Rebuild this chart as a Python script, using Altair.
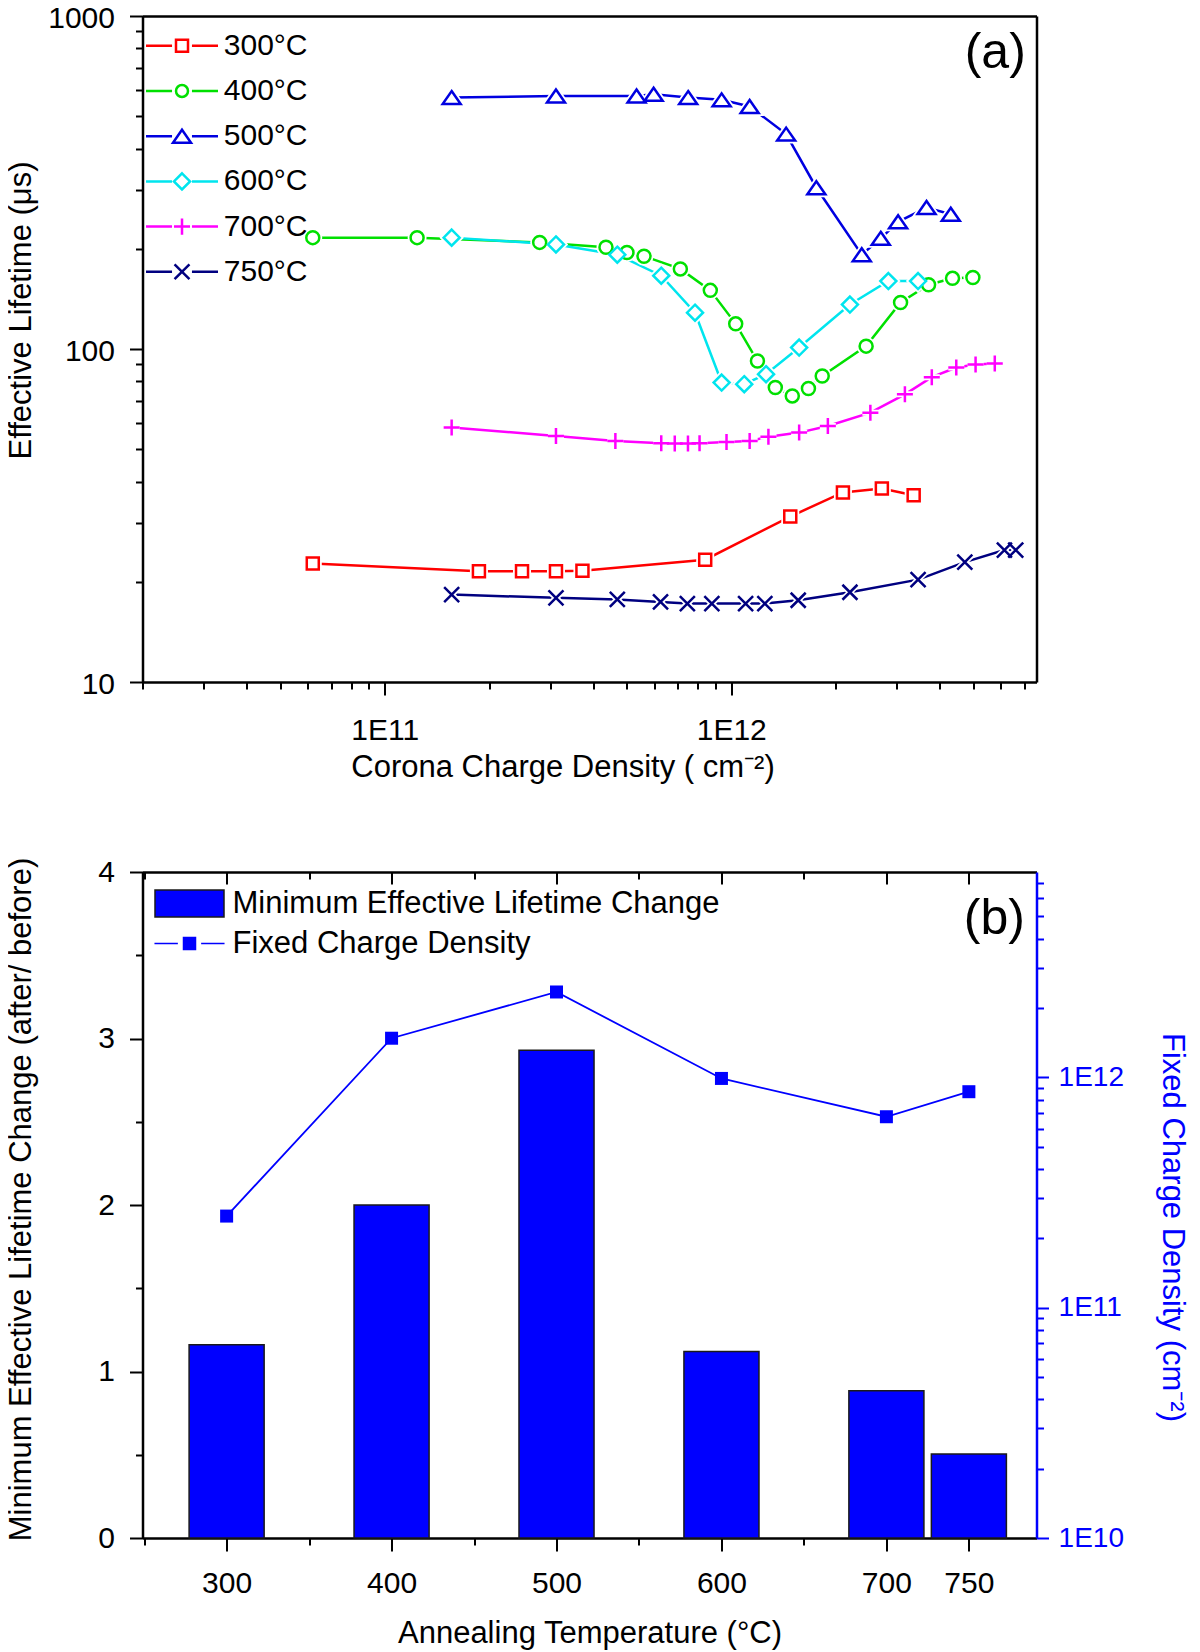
import altair as alt
import pandas as pd

FONT = "Liberation Sans, Arial, Helvetica, sans-serif"

# ---------------- Panel (a) data ----------------
series_names = ["300°C", "400°C", "500°C", "600°C", "700°C", "750°C"]

x300 = [6.2e10, 1.87e11, 2.49e11, 3.12e11, 3.72e11, 8.41e11, 1.48e12, 2.10e12, 2.72e12, 3.36e12]
y300 = [22.7, 21.5, 21.5, 21.5, 21.6, 23.3, 31.4, 37.1, 38.1, 36.4]

x400 = [6.2e10, 1.24e11, 2.80e11, 4.35e11, 5.0e11, 5.6e11, 7.13e11, 8.70e11, 1.03e12, 1.19e12,
        1.34e12, 1.50e12, 1.67e12, 1.83e12, 2.45e12, 3.08e12, 3.71e12, 4.35e12, 4.98e12]
y400 = [216, 216, 209, 202, 195, 190, 174, 150, 119, 92, 76.6, 72.3, 76.1, 83, 102, 138, 156, 163, 164]

x500 = [1.56e11, 3.12e11, 5.33e11, 5.97e11, 7.51e11, 9.38e11, 1.13e12, 1.44e12, 1.76e12, 2.38e12,
        2.70e12, 3.03e12, 3.66e12, 4.30e12]
y500 = [569, 575, 575, 582, 569, 560, 535, 442, 305, 192, 215, 241, 266, 254]

x600 = [1.56e11, 3.12e11, 4.69e11, 6.28e11, 7.86e11, 9.38e11, 1.09e12, 1.26e12, 1.57e12, 2.20e12, 2.84e12, 3.46e12]
y600 = [216, 206, 192, 166, 128.5, 79.3, 78.4, 84, 101, 136, 160, 160]

x700 = [1.56e11, 3.12e11, 4.63e11, 6.28e11, 6.87e11, 7.50e11, 8.10e11, 9.69e11, 1.13e12, 1.28e12,
        1.57e12, 1.90e12, 2.52e12, 3.17e12, 3.79e12, 4.46e12, 5.07e12, 5.76e12]
y700 = [58.1, 54.8, 52.9, 52.1, 52.0, 52.0, 52.1, 52.6, 52.9, 54.5, 56.1, 58.7, 64.4, 73.1, 82.3, 88.0, 89.9, 90.5]

x750 = [1.56e11, 3.12e11, 4.69e11, 6.25e11, 7.47e11, 8.79e11, 1.10e12, 1.25e12, 1.56e12, 2.20e12,
        3.46e12, 4.72e12, 6.14e12, 6.62e12]
y750 = [18.3, 17.9, 17.7, 17.4, 17.2, 17.2, 17.2, 17.2, 17.6, 18.6, 20.3, 22.9, 24.9, 24.9]

# ---------------- Panel (b) data ----------------
temps = [300, 400, 500, 600, 700, 750]
lifetime_change = [1.16, 2.0, 2.93, 1.12, 0.885, 0.505]
fixed_charge = [2.50e11, 1.48e12, 2.35e12, 9.9e11, 6.75e11, 8.67e11]
legend_items_b = ["Minimum Effective Lifetime Change", "Fixed Charge Density"]

# annotation positions (data coordinates)
label_a = {"x": [7.08e12], "y": [774], "s": ["(a)"]}
label_b = {"x": [784], "y": [3.72], "s": ["(b)"]}

# ---------------- styles ----------------
series_colors = ["#FF0000", "#00E000", "#0000E0", "#00E5EE", "#FF00FF", "#000080"]
marker_shapes = ["M-1,-1H1V1H-1Z", "circle", "M0,-0.72L1,0.72L-1,0.72Z",
                 "M0,-1L1,0L0,1L-1,0Z", "M0,-1V1M-1,0H1", "M-1,-1L1,1M-1,1L1,-1"]
marker_sizes = [144, 169, 324, 256, 256, 225]
LINE = "M-3,0H-0.83M0.83,0H3"
legend_paths_a = [
    LINE + "M-0.5,-0.5H0.5V0.5H-0.5Z",
    LINE + "M0.5,0A0.5,0.5,0,1,1,-0.5,0A0.5,0.5,0,1,1,0.5,0Z",
    LINE + "M0,-0.54L0.75,0.54L-0.75,0.54Z",
    LINE + "M0,-0.67L0.67,0L0,0.67L-0.67,0Z",
    LINE + "M0,-0.67V0.67M-0.67,0H0.67",
    LINE + "M-0.62,-0.62L0.62,0.62M-0.62,0.62L0.62,-0.62",
]
legend_paths_b = [
    "M-2.875,-1.125H2.875V1.125H-2.875Z",
    "M-2.92,0H-0.97M0.97,0H2.92M-0.5,-0.5H0.5V0.5H-0.5Z",
]
BLUE = "#0000FF"
W, H = 894, 666

rows = []
for name, xs, ys in zip(series_names, [x300, x400, x500, x600, x700, x750],
                        [y300, y400, y500, y600, y700, y750]):
    for xv, yv in zip(xs, ys):
        rows.append({"series": name, "charge": xv, "lifetime": yv})
df_a = pd.DataFrame(rows)
df_b = pd.DataFrame({"temp": temps, "change": lifetime_change, "charge": fixed_charge})


def axis(**kw):
    d = dict(grid=False, labelFont=FONT, titleFont=FONT, titleFontWeight="normal",
             labelColor="black", titleColor="black", domainColor="black", tickColor="black",
             labelFlush=False, labelOverlap=False, tickWidth=2, domainWidth=2.5)
    d.update(kw)
    return alt.Axis(**d)


EXP_LABEL = "'1E' + format(log(datum.value)/LN10, '.0f')"

# ---------------- Panel (a) ----------------
xa_scale = alt.Scale(type="log", domain=[2e10, 7.6e12], nice=False)
ya_scale = alt.Scale(type="log", domain=[10, 1000], nice=False)
xa_minor = [m * 10.0 ** e for e in (10, 11, 12) for m in range(2, 10) if m * 10.0 ** e < 7.6e12]
ya_minor = [m * 10.0 ** e for e in (1, 2) for m in range(2, 10)]

ax_xa_major = axis(orient="bottom", values=[1e11, 1e12], labelExpr=EXP_LABEL, tickSize=13,
                   labelFontSize=30, labelPadding=20, title="Corona Charge Density ( cm⁻²)",
                   titleFontSize=31, titleX=420, titleY=70, titleBaseline="top", titleAlign="center")
ax_xa_minor = axis(orient="bottom", values=xa_minor, labels=False, tickSize=7, domain=False, title=None)
ax_xa_top = axis(orient="top", ticks=False, labels=False, title=None)
ax_ya_major = axis(orient="left", values=[10, 100, 1000], format="d", tickSize=13, labelFontSize=30,
                   labelPadding=15, labelOffset=2, title="Effective Lifetime (μs)", titleFontSize=31,
                   titleX=-105, titleY=294, titleBaseline="bottom", titleAlign="center")
ax_ya_minor = axis(orient="left", values=ya_minor, labels=False, tickSize=7, domain=False, title=None)
ax_ya_right = axis(orient="right", ticks=False, labels=False, title=None)

base_a = alt.Chart(df_a)


def xy_a(axx, axy):
    return dict(x=alt.X("charge:Q", scale=xa_scale, axis=axx),
                y=alt.Y("lifetime:Q", scale=ya_scale, axis=axy))


layers_a = [
    base_a.mark_point(opacity=0).encode(**xy_a(ax_xa_major, ax_ya_major)),
    base_a.mark_point(opacity=0).encode(**xy_a(ax_xa_minor, ax_ya_minor)),
    base_a.mark_point(opacity=0).encode(**xy_a(ax_xa_top, ax_ya_right)),
]
for name, col in zip(series_names, series_colors):
    layers_a.append(base_a.transform_filter(alt.datum.series == name)
                    .mark_line(color=col, strokeWidth=2.5).encode(**xy_a(None, None)))
for name, shp, sz in zip(series_names, marker_shapes, marker_sizes):
    layers_a.append(base_a.transform_filter(alt.datum.series == name)
                    .mark_point(shape=shp, size=sz, fill="white", stroke="white", strokeWidth=6, opacity=1)
                    .encode(**xy_a(None, None)))
for name, col, shp, sz in zip(series_names, series_colors, marker_shapes, marker_sizes):
    layers_a.append(base_a.transform_filter(alt.datum.series == name)
                    .mark_point(shape=shp, size=sz, fill="white", stroke=col, strokeWidth=2.5, opacity=1)
                    .encode(**xy_a(None, None)))

leg_a = alt.Legend(orient="none", legendX=24.5, legendY=14.8, title=None, labelFont=FONT,
                   labelFontSize=30, labelColor="black", labelOffset=26.8, rowPadding=15.2,
                   symbolSize=576, symbolStrokeWidth=2.5, symbolOpacity=1, padding=0, labelLimit=0)
layers_a.append(
    base_a.transform_filter("false").mark_point(opacity=1, size=576, strokeWidth=2.5, filled=False).encode(
        color=alt.Color("series:N", scale=alt.Scale(domain=series_names, range=series_colors), legend=leg_a),
        shape=alt.Shape("series:N", scale=alt.Scale(domain=series_names, range=legend_paths_a), legend=leg_a),
    )
)
layers_a.append(
    alt.Chart(pd.DataFrame(label_a)).mark_text(align="right", baseline="middle", fontSize=50, font=FONT,
                                               color="black").encode(
        x=alt.X("x:Q", scale=xa_scale, axis=None), y=alt.Y("y:Q", scale=ya_scale, axis=None), text="s:N")
)

panel_a = alt.layer(*layers_a).resolve_axis(x="independent", y="independent").properties(width=W, height=H)

# ---------------- Panel (b) ----------------
xb_scale = alt.Scale(domain=[249, 791], nice=False, zero=False)
yb_scale = alt.Scale(domain=[0, 4], nice=False)
yr_scale = alt.Scale(type="log", domain=[1e10, 7.8e12], nice=False)
xb_major_vals = [300, 400, 500, 600, 700, 750]
xb_minor_vals = [250, 350, 450, 550, 650]
yb_minor_vals = [0.5, 1.5, 2.5, 3.5]
yr_minor = [m * 10.0 ** e for e in (10, 11, 12) for m in range(2, 10) if m * 10.0 ** e < 7.8e12]

ax_xb_major = axis(orient="bottom", values=xb_major_vals, tickSize=13, labelFontSize=30, labelPadding=17.5,
                   title="Annealing Temperature (°C)", titleFontSize=31, titleX=447, titleY=80.7,
                   titleBaseline="top", titleAlign="center")
ax_xb_minor = axis(orient="bottom", values=xb_minor_vals, labels=False, tickSize=7, domain=False, title=None)
ax_xb_top = axis(orient="bottom", offset=-H, values=xb_major_vals, labels=False, tickSize=12, title=None)
ax_xb_top_minor = axis(orient="bottom", offset=-H, values=xb_minor_vals, labels=False, tickSize=7,
                       domain=False, title=None)
ax_yb_major = axis(orient="left", values=[0, 1, 2, 3, 4], tickSize=13, labelFontSize=30, labelPadding=15,
                   title="Minimum Effective Lifetime Change (after/ before)", titleFontSize=31,
                   titleX=-105, titleY=327, titleBaseline="bottom", titleAlign="center")
ax_yb_minor = axis(orient="left", values=yb_minor_vals, labels=False, tickSize=7, domain=False, title=None)
ax_yr_major = axis(orient="right", values=[1e10, 1e11, 1e12], labelExpr=EXP_LABEL, tickSize=12,
                   labelFontSize=28, labelPadding=9.6, labelColor=BLUE, tickColor=BLUE, domainColor=BLUE,
                   title="Fixed Charge Density (cm⁻²)", titleColor=BLUE, titleFontSize=31,
                   titleX=119, titleY=355, titleBaseline="bottom", titleAlign="center")
ax_yr_minor = axis(orient="right", values=yr_minor, labels=False, tickSize=7, tickColor=BLUE,
                   domain=False, title=None)

base_b = alt.Chart(df_b)


def enc_left(axx, axy):
    return dict(x=alt.X("temp:Q", scale=xb_scale, axis=axx),
                y=alt.Y("change:Q", scale=yb_scale, axis=axy))


def enc_right(axx, axy):
    return dict(x=alt.X("temp:Q", scale=xb_scale, axis=axx),
                y=alt.Y("charge:Q", scale=yr_scale, axis=axy))


bars = base_b.transform_calculate(
    x1="datum.temp - 22.75", x2="datum.temp + 22.75", zero="0"
).mark_bar(color=BLUE, stroke="#1a1a1a", strokeWidth=1.5).encode(
    x=alt.X("x1:Q", scale=xb_scale, axis=None), x2="x2:Q",
    y=alt.Y("change:Q", scale=yb_scale, axis=None), y2="zero:Q",
)

leg_b = alt.Legend(orient="none", legendX=31.5, legendY=16, title=None, labelFont=FONT,
                   labelFontSize=31, labelColor="black", labelOffset=27.5, rowPadding=7,
                   symbolSize=576, symbolStrokeWidth=1.5, symbolOpacity=1, padding=0, labelLimit=0)

layers_b = [
    base_b.mark_point(opacity=0).encode(**enc_left(ax_xb_major, ax_yb_major)),
    base_b.mark_point(opacity=0).encode(**enc_left(ax_xb_minor, ax_yb_minor)),
    base_b.mark_point(opacity=0).encode(**enc_right(ax_xb_top, ax_yr_major)),
    base_b.mark_point(opacity=0).encode(**enc_right(ax_xb_top_minor, ax_yr_minor)),
    bars,
    base_b.mark_line(color=BLUE, strokeWidth=1.8).encode(**enc_right(None, None)),
    base_b.mark_point(shape="square", size=169, filled=True, color=BLUE, opacity=1).encode(**enc_right(None, None)),
    base_b.transform_filter("false").mark_point(opacity=1, size=576, strokeWidth=1.5, filled=True).encode(
        fill=alt.Fill("item:N", scale=alt.Scale(domain=legend_items_b, range=[BLUE, BLUE]), legend=leg_b),
        stroke=alt.Stroke("item:N", scale=alt.Scale(domain=legend_items_b, range=["#1a1a1a", BLUE]), legend=leg_b),
        shape=alt.Shape("item:N", scale=alt.Scale(domain=legend_items_b, range=legend_paths_b), legend=leg_b),
    ),
    alt.Chart(pd.DataFrame(label_b)).mark_text(align="right", baseline="middle", fontSize=50, font=FONT,
                                               color="black").encode(
        x=alt.X("x:Q", scale=xb_scale, axis=None), y=alt.Y("y:Q", scale=yb_scale, axis=None), text="s:N"),
]

panel_b = (alt.layer(*layers_b)
           .resolve_scale(y="independent")
           .resolve_axis(x="independent", y="independent")
           .properties(width=W, height=H))

chart = (alt.vconcat(panel_a, panel_b, spacing=190, bounds="flush")
         .resolve_scale(color="independent", shape="independent", fill="independent", stroke="independent")
         .resolve_legend(color="independent", shape="independent", fill="independent", stroke="independent")
         .properties(padding={"left": -3.5, "top": -6, "right": 0, "bottom": 0})
         .configure_view(stroke=None)
         .configure(font=FONT))

chart.save("out.html", embed_options={"renderer": "svg", "actions": False})
